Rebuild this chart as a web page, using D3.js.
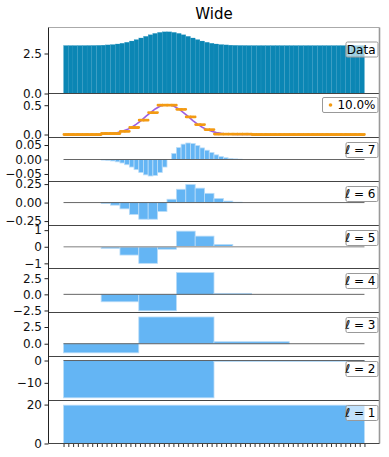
<!DOCTYPE html>
<html>
<head>
<meta charset="utf-8">
<script src="https://cdn.jsdelivr.net/npm/d3@7"></script>
<style>
  body { margin: 0; background: #fff; }
  svg { display: block; font-family: "DejaVu Sans", sans-serif; }
</style>
</head>
<body>
<div id="container"></div>
<script>
"use strict";

// Raw signal (64 samples).
const signal = [
  3.0, 3.0, 3.0, 3.001, 3.002, 3.004, 3.007, 3.013, 3.022, 3.038, 3.061, 3.095, 3.141, 3.203, 3.28, 3.37,
  3.47, 3.574, 3.673, 3.759, 3.822, 3.856, 3.856, 3.822, 3.759, 3.673, 3.574, 3.47, 3.37, 3.28, 3.203, 3.141,
  3.095, 3.061, 3.038, 3.022, 3.013, 3.007, 3.004, 3.002, 3.001, 3.0, 3.0, 3.0, 3.0, 3.0, 3.0, 3.0,
  3.0, 3.0, 3.0, 3.0, 3.0, 3.0, 3.0, 3.0, 3.0, 3.0, 3.0, 3.0, 3.0, 3.0, 3.0, 3.0
];

// Reconstruction kept with 10% of the coefficients, and the smooth reference curve.
const approxLabel = "10.0%";
const approx = [
  0, 0, 0, 0, 0, 0, 0, 0, 0.017, 0.017, 0.017, 0.017, 0.055, 0.055, 0.12, 0.12,
  0.245, 0.245, 0.375, 0.375, 0.5, 0.5, 0.5, 0.5, 0.43, 0.43, 0.3, 0.3, 0.17, 0.17, 0.085, 0.085,
  0.008, 0.008, 0.008, 0.008, 0.008, 0.008, 0.008, 0.008, 0, 0, 0, 0, 0, 0, 0, 0,
  0, 0, 0, 0, 0, 0, 0, 0, 0, 0, 0, 0, 0, 0, 0, 0
];
const smooth = [
  0, 0, 0, 0, 0, 0, 0.001, 0.003, 0.005, 0.01, 0.019, 0.032, 0.054, 0.084, 0.125, 0.177,
  0.239, 0.308, 0.375, 0.436, 0.482, 0.507, 0.507, 0.482, 0.436, 0.375, 0.308, 0.239, 0.177, 0.125, 0.084, 0.054,
  0.032, 0.019, 0.01, 0.005, 0.003, 0.001, 0, 0, 0, 0, 0, 0, 0, 0, 0, 0,
  0, 0, 0, 0, 0, 0, 0, 0, 0, 0, 0, 0, 0, 0, 0, 0
];

// Coefficients per level (level l has 2^(l-1) values).
const level7 = [
  0, 0, 0, 0, 0, 0, 0, 0, -0.002, -0.003, -0.005, -0.008, -0.012, -0.018, -0.026, -0.035,
  -0.045, -0.053, -0.057, -0.055, -0.045, -0.026, 0, 0.021, 0.041, 0.053, 0.057, 0.055, 0.048, 0.04, 0.032, 0.024,
  0.016, 0.01, 0.006, 0.003, 0.002, 0.001, 0, 0, 0, 0, 0, 0, 0, 0, 0, 0,
  0, 0, 0, 0, 0, 0, 0, 0, 0, 0, 0, 0, 0, 0, 0, 0
];
const level6 = [
  0, 0, 0, 0, -0.013, -0.035, -0.085, -0.16, -0.225, -0.225, -0.12, 0.045, 0.18, 0.245, 0.195, 0.125,
  0.055, 0.02, 0.005, 0, 0, 0, 0, 0, 0, 0, 0, 0, 0, 0, 0, 0
];
const level5 = [0, 0, -0.1, -0.5, -1.0, -0.15, 0.94, 0.64, 0.14, 0, 0, 0, 0, 0, 0, 0];
const level4 = [0, -1.15, -2.55, 3.37, 0.15, 0, 0, 0];
const level3 = [-1.36, 4.0, 0.3, 0];
const level2 = [-16.7, -0.4];
const level1 = [19.7];

const levelTicks = {
  7: [-0.05, 0, 0.05],
  6: [-0.25, 0, 0.25],
  5: [-1, 0, 1],
  4: [-2.5, 0, 2.5],
  3: [0, 2.5],
  2: [-10, 0],
  1: [0, 20],
};

const WIDTH = 389;
const HEIGHT = 457;
const LEFT = 48.5;
const RIGHT = 379.5;
const FONT = 12;

const BAR_DARK = "#0b86b4";
const BAR_LIGHT = "#64b5f4";
const ORANGE = "#f39a12";
const PURPLE = "#9d5fe3";

const svg = d3
  .select("#container")
  .append("svg")
  .attr("width", WIDTH)
  .attr("height", HEIGHT);

const n = signal.length;
// 5% margins on each side, same as the default autoscale.
const x = d3
  .scaleLinear()
  .domain([-0.05 * n, 1.05 * n])
  .range([LEFT, RIGHT]);

// Panels, top to bottom. Pixel extents + y domains.
const panels = [
  { kind: "data", top: 27.5, bottom: 93.5, domain: [0, 4.125], ticks: [0, 2.5], fmt: ".1f" },
  { kind: "approx", top: 93.5, bottom: 137.5, domain: [-0.051, 0.7], ticks: [0, 0.5], fmt: ".1f" },
  { kind: "level", level: 7, values: level7, top: 137.5, bottom: 181.5, domain: [-0.076, 0.076], fmt: ".2f" },
  { kind: "level", level: 6, values: level6, top: 181.5, bottom: 225.5, domain: [-0.31, 0.285], fmt: ".2f" },
  { kind: "level", level: 5, values: level5, top: 225.5, bottom: 268.5, domain: [-1.31, 1.28], fmt: "d", zeroColor: "#aaa" },
  { kind: "level", level: 4, values: level4, top: 268.5, bottom: 312.5, domain: [-2.81, 4.0], fmt: ".1f" },
  { kind: "level", level: 3, values: level3, top: 312.5, bottom: 356.5, domain: [-1.91, 4.67], fmt: ".1f" },
  { kind: "level", level: 2, values: level2, top: 356.5, bottom: 400.5, domain: [-17.9, 1.8], fmt: "d" },
  { kind: "level", level: 1, values: level1, top: 400.5, bottom: 443.5, domain: [0, 22.1], fmt: "d", noZero: true },
];

/**
 * @param {d3.Selection} g
 * @param {number} top
 * @param {number} w
 */
function legendBox(g, top, w) {
  return g
    .append("rect")
    .attr("x", RIGHT - 1.5 - w)
    .attr("y", top)
    .attr("width", w)
    .attr("height", 15)
    .attr("rx", 1.5)
    .attr("fill", "#fff")
    .attr("fill-opacity", 0.6)
    .attr("stroke", "#999")
    .attr("stroke-width", 1);
}

panels.forEach((p) => {
  const y = d3.scaleLinear().domain(p.domain).range([p.bottom, p.top]);
  const g = svg.append("g");

  // Y axis ticks and labels.
  g.append("g")
    .attr("transform", `translate(${LEFT},0)`)
    .style("font-size", `${FONT}px`)
    .style("font-family", '"DejaVu Sans", sans-serif')
    .call(
      d3
        .axisLeft(y)
        .tickValues(p.ticks || levelTicks[p.level])
        .tickFormat(d3.format(p.fmt))
        .tickSize(4)
        .tickPadding(2.5)
    )
    .call((a) => a.select(".domain").remove())
    .call((a) => a.selectAll("line").attr("stroke", "#222"))
    .call((a) => a.selectAll("text").attr("fill", "#111"));

  if (p.kind === "data") {
    g.selectAll("rect.bar")
      .data(signal)
      .enter()
      .append("rect")
      .attr("class", "bar")
      .attr("x", (d, i) => x(i))
      .attr("width", (d, i) => x(i + 1) - x(i))
      .attr("y", (d) => y(d))
      .attr("height", (d) => y(0) - y(d))
      .attr("fill", BAR_DARK)
      .attr("stroke", "#3a9dc6")
      .attr("stroke-width", 0.2);

    const top = p.top + 14.5;
    legendBox(g, top, 32);
    g.append("text")
      .attr("x", RIGHT - 4)
      .attr("y", top + 11.5)
      .attr("text-anchor", "end")
      .style("font-size", `${FONT}px`)
      .text("Data");
  } else if (p.kind === "approx") {
    const line = d3
      .line()
      .x((d, i) => x(i + 0.5))
      .y((d) => y(d));
    g.append("path")
      .datum(smooth)
      .attr("d", line)
      .attr("fill", "none")
      .attr("stroke", PURPLE)
      .attr("stroke-width", 1.6);

    // One dotted step per sample.
    g.selectAll("line.step")
      .data(approx)
      .enter()
      .append("line")
      .attr("class", "step")
      .attr("x1", (d, i) => x(i) + 0.4)
      .attr("x2", (d, i) => x(i + 1))
      .attr("y1", (d) => y(d))
      .attr("y2", (d) => y(d))
      .attr("stroke", ORANGE)
      .attr("stroke-width", 2.8)
      .attr("stroke-linecap", "round")
      .attr("stroke-dasharray", "0.01 1.4");

    const top = p.top + 4;
    legendBox(g, top, 55.5);
    g.append("circle")
      .attr("cx", RIGHT - 49)
      .attr("cy", top + 7.5)
      .attr("r", 1.8)
      .attr("fill", ORANGE);
    g.append("text")
      .attr("x", RIGHT - 4)
      .attr("y", top + 11.5)
      .attr("text-anchor", "end")
      .style("font-size", `${FONT}px`)
      .text(approxLabel);
  } else {
    const step = n / p.values.length;
    g.selectAll("rect.bar")
      .data(p.values)
      .enter()
      .append("rect")
      .attr("class", "bar")
      .attr("x", (d, i) => x(i * step))
      .attr("width", (d, i) => x((i + 1) * step) - x(i * step))
      .attr("y", (d) => Math.min(y(d), y(0)))
      .attr("height", (d) => Math.abs(y(0) - y(d)))
      .attr("fill", BAR_LIGHT)
      .attr("stroke", "#b9dcf8")
      .attr("stroke-width", 0.8);

    if (!p.noZero) {
      g.append("line")
        .attr("x1", x(0))
        .attr("x2", x(n))
        .attr("y1", y(0))
        .attr("y2", y(0))
        .attr("stroke", p.zeroColor || "#555")
        .attr("stroke-width", p.zeroColor ? 1.3 : 0.9);
    }

    const top = p.top + 5;
    legendBox(g, top, 32);
    const label = g
      .append("text")
      .attr("x", RIGHT - 4)
      .attr("y", top + 11.5)
      .attr("text-anchor", "end")
      .style("font-size", `${FONT}px`);
    label.append("tspan").attr("font-style", "italic").text("ℓ");
    label.append("tspan").text(` = ${p.level}`);
  }
});

// Separators between stacked panels.
panels.slice(1).forEach((p) => {
  svg
    .append("line")
    .attr("x1", LEFT)
    .attr("x2", RIGHT)
    .attr("y1", p.top)
    .attr("y2", p.top)
    .attr("stroke", "#444")
    .attr("stroke-width", 1.1);
});

const first = panels[0];
const last = panels[panels.length - 1];

// Bottom axis: ticks only, no labels.
svg
  .append("g")
  .attr("transform", `translate(0,${last.bottom})`)
  .call(
    d3
      .axisBottom(x)
      .tickValues(d3.range(n).map((i) => (i * n) / (n - 1)))
      .tickFormat("")
      .tickSize(3.5)
  )
  .call((a) => a.select(".domain").remove())
  .call((a) => a.selectAll("line").attr("stroke", "#333"));

// Frame.
svg.append("line")
  .attr("x1", LEFT).attr("x2", RIGHT)
  .attr("y1", first.top).attr("y2", first.top)
  .attr("stroke", "#aaa").attr("stroke-width", 1);
svg.append("line")
  .attr("x1", RIGHT).attr("x2", RIGHT)
  .attr("y1", first.top).attr("y2", last.bottom)
  .attr("stroke", "#999").attr("stroke-width", 1.6);
svg.append("line")
  .attr("x1", LEFT).attr("x2", RIGHT)
  .attr("y1", last.bottom).attr("y2", last.bottom)
  .attr("stroke", "#444").attr("stroke-width", 1.2);
svg.append("line")
  .attr("x1", LEFT).attr("x2", LEFT)
  .attr("y1", first.top).attr("y2", last.bottom)
  .attr("stroke", "#222").attr("stroke-width", 1);

// Title.
svg
  .append("text")
  .attr("x", (LEFT + RIGHT) / 2)
  .attr("y", 18.5)
  .attr("text-anchor", "middle")
  .style("font-size", "15px")
  .text("Wide");
</script>
</body>
</html>
